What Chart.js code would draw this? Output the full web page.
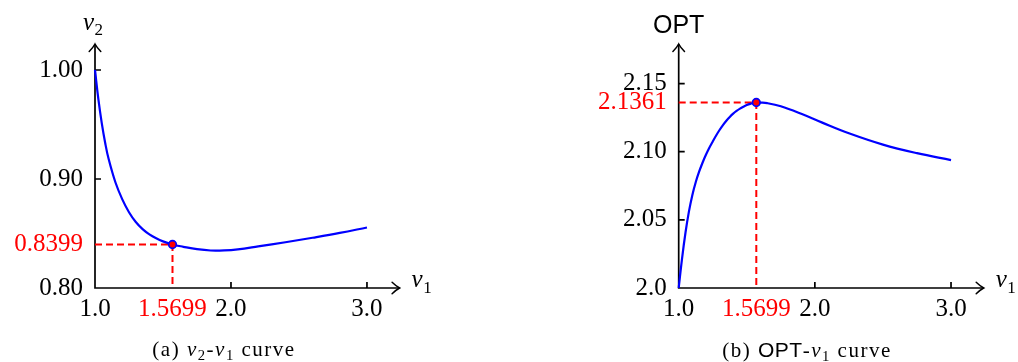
<!DOCTYPE html>
<html><head><meta charset="utf-8">
<script src="https://cdn.jsdelivr.net/npm/chart.js@4.4.1/dist/chart.umd.min.js"></script>
<style>
html,body{margin:0;padding:0;background:#fff;width:1018px;height:362px;overflow:hidden}
.wrap{position:absolute;top:0;width:509px;height:362px}
.cap{position:absolute;top:339px;font-family:'Liberation Serif',serif;font-size:21px;line-height:1;white-space:nowrap;transform:translateX(-50%);letter-spacing:1.5px;color:#000}
.cap i{font-style:italic}
.cap sub{font-size:0.7em;vertical-align:-0.25em;line-height:0}
.sf{font-family:'Liberation Sans',sans-serif;letter-spacing:0.5px}
</style></head><body>
<div class="wrap" style="left:0"><canvas id="c1" width="509" height="362"></canvas></div>
<div class="wrap" style="left:509px"><canvas id="c2" width="509" height="362"></canvas></div>
<div class="cap" style="left:224px">(a) <i>v</i><sub>2</sub>-<i>v</i><sub>1</sub> curve</div>
<div class="cap" style="left:807px">(b) <span class="sf">OPT</span>-<i>v</i><sub>1</sub> curve</div>
<script>
// ---- data ----
const v1A = [1.0, 1.025, 1.05, 1.075, 1.1, 1.15, 1.2, 1.25, 1.3, 1.35, 1.4, 1.45, 1.5, 1.5699, 1.65, 1.75, 1.85, 1.95, 2.05, 2.2, 2.4, 2.6, 2.8, 3.0];
const v2A = [1.0, 0.9730, 0.9510, 0.9330, 0.9185, 0.8970, 0.8815, 0.8695, 0.8605, 0.8540, 0.8492, 0.8456, 0.8428, 0.8399, 0.8378, 0.8356, 0.8344, 0.8345, 0.8355, 0.8382, 0.8420, 0.8461, 0.8505, 0.8555];
const v1B = [1.0, 1.025, 1.05, 1.075, 1.1, 1.125, 1.15, 1.175, 1.2, 1.225, 1.25, 1.275, 1.3, 1.325, 1.35, 1.375, 1.4, 1.425, 1.45, 1.475, 1.5, 1.525, 1.55, 1.5699, 1.6, 1.65, 1.75, 1.9, 2.05, 2.25, 2.5, 2.75, 3.0];
const optB = [2.0, 2.0220, 2.0407, 2.0560, 2.0681, 2.0776, 2.0853, 2.0919, 2.0977, 2.1029, 2.1075, 2.1119, 2.1159, 2.1195, 2.1227, 2.1255, 2.1279, 2.1299, 2.1316, 2.1330, 2.1342, 2.1351, 2.1357, 2.1361, 2.1360, 2.1356, 2.1333, 2.1278, 2.1215, 2.1135, 2.1052, 2.0989, 2.0938];
const v1Star = 1.5699;
const v2Star = 0.8399;
const optStar = 2.1361;
const xTicks = [1.0, 1.5699, 2.0, 3.0];
const xTickLabels = ['1.0', '1.5699', '2.0', '3.0'];
const yTicksA = [0.80, 0.8399, 0.90, 1.00];
const yTickLabelsA = ['0.80', '0.8399', '0.90', '1.00'];
const yTicksB = [2.0, 2.05, 2.10, 2.1361, 2.15];
const yTickLabelsB = ['2.0', '2.05', '2.10', '2.1361', '2.15'];
const xMarks = [2.0, 3.0];
const yMarksA = [0.90, 1.00];
const yMarksB = [2.05, 2.10, 2.15];

const BLUE = '#0000ff', RED = '#ff0000';
const SERIF = "'Liberation Serif', serif";
function lab(vals, labels, v){ const i = vals.findIndex(t => Math.abs(t - v) < 1e-9); return i >= 0 ? labels[i] : ''; }

const deco = {
  id: 'deco',
  beforeDatasetsDraw(chart, args, o) {
    const {ctx, chartArea: a, scales: {x, y}} = chart;
    ctx.save();
    ctx.strokeStyle = '#000'; ctx.lineWidth = 1.7; ctx.lineCap = 'butt'; ctx.lineJoin = 'miter';
    ctx.beginPath();
    ctx.moveTo(a.left - 0.85, a.bottom); ctx.lineTo(a.right, a.bottom);
    ctx.moveTo(a.left, a.bottom + 0.85); ctx.lineTo(a.left, a.top);
    o.xMarks.forEach(v => { const p = x.getPixelForValue(v); ctx.moveTo(p, a.bottom); ctx.lineTo(p, a.bottom - 6); });
    o.yMarks.forEach(v => { const p = y.getPixelForValue(v); ctx.moveTo(a.left, p); ctx.lineTo(a.left + 6, p); });
    ctx.stroke();
    ctx.lineWidth = 1.5; ctx.lineCap = 'round';
    ctx.beginPath();
    ctx.moveTo(a.right - 7.5, a.bottom - 5.8); ctx.quadraticCurveTo(a.right - 3, a.bottom - 1.5, a.right, a.bottom);
    ctx.quadraticCurveTo(a.right - 3, a.bottom + 1.5, a.right - 7.5, a.bottom + 5.8);
    ctx.moveTo(a.left - 5.8, a.top + 7.5); ctx.quadraticCurveTo(a.left - 1.5, a.top + 3, a.left, a.top);
    ctx.quadraticCurveTo(a.left + 1.5, a.top + 3, a.left + 5.8, a.top + 7.5);
    ctx.stroke();
    ctx.restore();
  },
  afterDraw(chart, args, o) {
    const {ctx, chartArea: a} = chart;
    ctx.save();
    ctx.fillStyle = '#000'; ctx.textBaseline = 'alphabetic'; ctx.textAlign = 'left';
    ctx.font = 'italic 25px ' + SERIF;
    let xx = a.right + 12;
    ctx.fillText('v', xx, 287);
    let w = ctx.measureText('v').width;
    ctx.font = '17px ' + SERIF;
    ctx.fillText('1', xx + w + 0.5, 293);
    if (o.yTitle === 'OPT') {
      ctx.font = "25px 'Liberation Sans', sans-serif"; ctx.textAlign = 'center';
      ctx.fillText('OPT', a.left, 33);
    } else {
      ctx.font = 'italic 25px ' + SERIF;
      const yx = a.left - 12;
      ctx.fillText('v', yx, 30);
      w = ctx.measureText('v').width;
      ctx.font = '17px ' + SERIF;
      ctx.fillText('2', yx + w + 0.5, 35);
    }
    ctx.restore();
  }
};

function makeChart(id, xs, ys, starY, yTicks, yLabels, yMarks, ymin, ymax, yW, padR, yTitle) {
  const curve = xs.map((v, i) => ({x: v, y: ys[i]}));
  return new Chart(document.getElementById(id), {
    type: 'scatter',
    data: {
      datasets: [
        {data: [{x: v1Star, y: starY}], pointRadius: 3.8, pointBackgroundColor: RED, pointBorderColor: BLUE, pointBorderWidth: 1.7, showLine: false, clip: false},
        {data: curve, showLine: true, borderColor: BLUE, borderWidth: 2.2, pointRadius: 0, cubicInterpolationMode: 'default', tension: 0.4, fill: false, clip: false},
        {data: [{x: xTicks[0], y: starY}, {x: v1Star, y: starY}, {x: v1Star, y: yTicks[0]}], showLine: true, borderColor: RED, borderWidth: 2, borderDash: [7, 4], pointRadius: 0, tension: 0, fill: false, clip: false}
      ]
    },
    options: {
      responsive: false, animation: false, events: [], devicePixelRatio: 1,
      layout: {padding: {left: 0, top: 44, right: padR, bottom: 0}},
      plugins: {legend: {display: false}, tooltip: {enabled: false}, deco: {xMarks: xMarks, yMarks: yMarks, yTitle: yTitle}},
      scales: {
        x: {
          type: 'linear', min: 1.0, max: 3.24,
          grid: {display: false, drawTicks: false}, border: {display: false},
          afterBuildTicks: s => { s.ticks = xTicks.map(v => ({value: v})); },
          afterFit: s => { s.height = 74; },
          ticks: {autoSkip: false, maxRotation: 0, minRotation: 0, padding: 6,
            font: {family: SERIF, size: 25},
            color: c => Math.abs(c.tick.value - v1Star) < 1e-9 ? RED : '#000',
            callback: v => lab(xTicks, xTickLabels, v)}
        },
        y: {
          type: 'linear', min: ymin, max: ymax,
          grid: {display: false, drawTicks: false}, border: {display: false},
          afterBuildTicks: s => { s.ticks = yTicks.map(v => ({value: v})); },
          afterFit: s => { s.width = yW; },
          ticks: {autoSkip: false, padding: 12,
            font: {family: SERIF, size: 25},
            color: c => Math.abs(c.tick.value - starY) < 1e-9 ? RED : '#000',
            callback: v => lab(yTicks, yLabels, v)}
        }
      }
    },
    plugins: [deco]
  });
}

makeChart('c1', v1A, v2A, v2Star, yTicksA, yTickLabelsA, yMarksA, 0.80, 1.02385, 95, 109.4, 'v2');
makeChart('c2', v1B, optB, optStar, yTicksB, yTickLabelsB, yMarksB, 2.0, 2.1790, 169.7, 34.3, 'OPT');
</script>
</body></html>
